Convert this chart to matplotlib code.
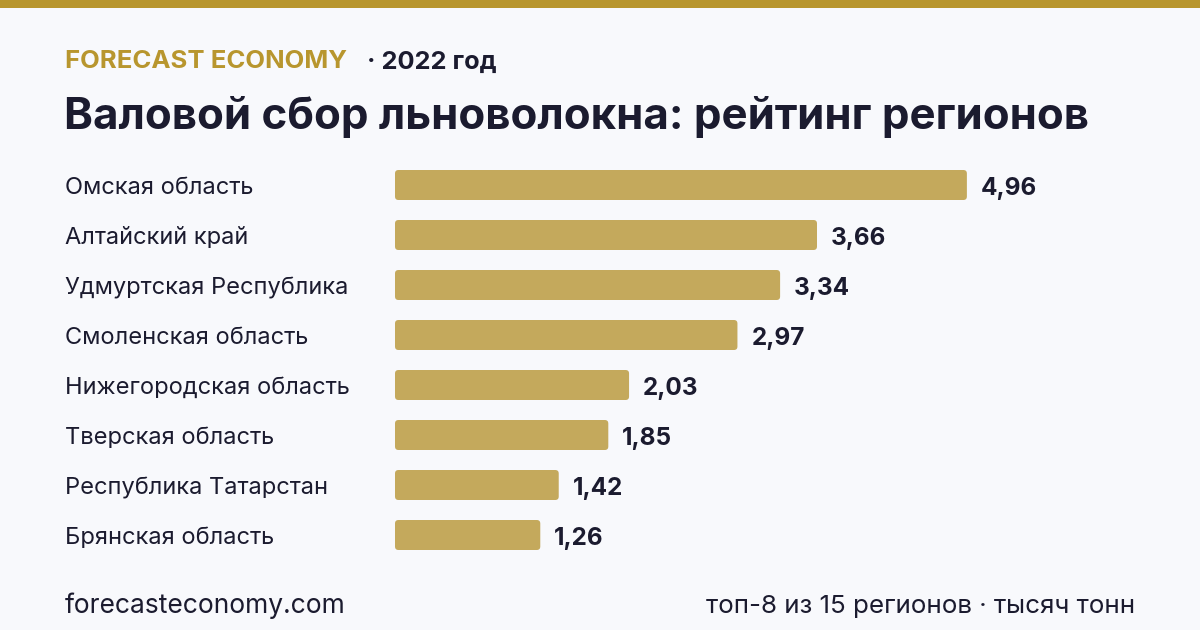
import matplotlib
matplotlib.use("Agg")
import matplotlib.pyplot as plt
from matplotlib.patches import FancyBboxPatch, Rectangle

regions = ["Омская область", "Алтайский край", "Удмуртская Республика", "Смоленская область",
           "Нижегородская область", "Тверская область", "Республика Татарстан", "Брянская область"]
values = [4.96, 3.66, 3.34, 2.97, 2.03, 1.85, 1.42, 1.26]

brand = "FORECAST ECONOMY"
year = "· 2022 год"
title = "Валовой сбор льноволокна: рейтинг регионов"
site = "forecasteconomy.com"
note = "топ-8 из 15 регионов · тысяч тонн"

BG = "#F8F9FC"
GOLD = "#B8962E"
BAR = "#C4A95C"
DARK = "#1B1B2F"
W, H = 1200, 630

plt.rcParams['font.family'] = ['Inter', 'DejaVu Sans']

fig = plt.figure(figsize=(12, 6.3), dpi=100, facecolor=BG)

# top stripe
fig.patches.append(Rectangle((0, 1 - 8 / H), 1, 8 / H, transform=fig.transFigure,
                             facecolor=GOLD, edgecolor="none"))

fig.text(65 / W, 1 - 62 / H, brand, fontsize=18.5, fontweight="bold", color=GOLD, va="center")
fig.text(367 / W, 1 - 62 / H, year, fontsize=18.3, fontweight="bold", color=DARK, va="center")
fig.text(64 / W, 1 - 117 / H, title, fontsize=31.5, fontweight="bold", color=DARK, va="center")

# bars: x scale 115.3 px per unit, rows 50 px apart
px_per_unit = 115.3
left_px, top_px, bottom_px = 395, 160, 560
ax = fig.add_axes([left_px / W, 1 - bottom_px / H, (W - left_px) / W, (bottom_px - top_px) / H])
ax.set_facecolor("none")
ax.set_xlim(0, (W - left_px) / px_per_unit)
ax.set_ylim(len(values) - 0.5, -0.5)
ax.axis("off")

bh = 0.6
r = 3.5 / px_per_unit
aspect = px_per_unit / 50
for i, (name, v) in enumerate(zip(regions, values)):
    ax.add_patch(FancyBboxPatch((0, i - bh / 2), v, bh,
                                boxstyle=f"round,pad=0,rounding_size={r}",
                                mutation_aspect=aspect, facecolor=BAR, edgecolor="none"))
    ax.text(v + 14 / px_per_unit, i + 0.06, f"{v:.2f}".replace(".", ","), fontsize=17.5,
            fontweight="bold", color=DARK, va="center", ha="left")
    fig.text(65 / W, 1 - (188 + 50 * i) / H, name, fontsize=17, color=DARK, va="center")

fig.text(65 / W, 1 - 606 / H, site, fontsize=19, color=DARK, va="center")
fig.text(1135 / W, 1 - 606 / H, note, fontsize=18.7, color=DARK, va="center", ha="right")

fig.savefig("out.png", dpi=100, facecolor=BG)
